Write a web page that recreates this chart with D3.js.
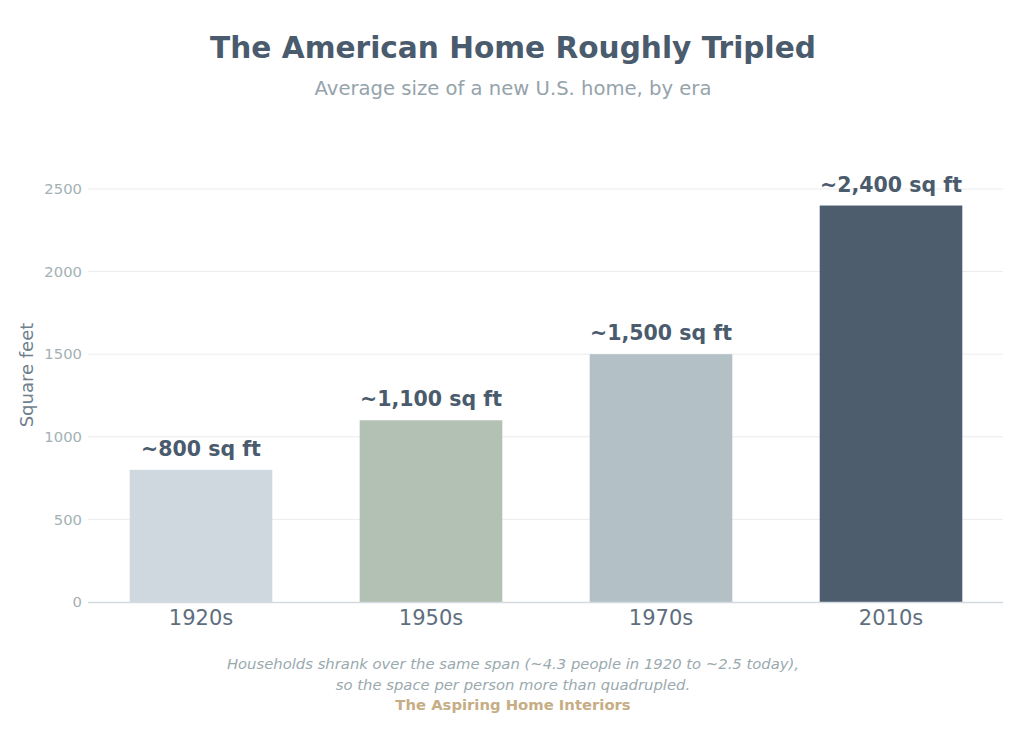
<!DOCTYPE html>
<html>
<head>
<meta charset="utf-8">
<script src="https://cdn.jsdelivr.net/npm/d3@7"></script>
<style>
  body { margin: 0; background: #fff; }
  svg { font-family: "DejaVu Sans", sans-serif; }
</style>
</head>
<body>
<script>
const WIDTH = 1024;
const HEIGHT = 747;

// data
var ERAS = ["1920s", "1950s", "1970s", "2010s"];
var SQFT = [800, 1100, 1500, 2400];
var VALUE_LABELS = ["~800 sq ft", "~1,100 sq ft", "~1,500 sq ft", "~2,400 sq ft"];
var BAR_COLORS = ["#d0d8df", "#b2c1b3", "#b3c1c6", "#4d5d6e"];
var Y_TICKS = [0, 500, 1000, 1500, 2000, 2500];

var margin = { left: 88, right: 21, top: 189, bottom: 145 };

var xScale = d3
  .scaleBand()
  .domain(ERAS)
  .range([86, 1006])
  .paddingInner(0.38)
  .paddingOuter(0.19);

var yScale = d3
  .scaleLinear()
  .domain([0, 2500])
  .range([HEIGHT - margin.bottom, margin.top]);

var svg = d3
  .select("body")
  .append("svg")
  .attr("width", WIDTH)
  .attr("height", HEIGHT);

//title
svg.append("text")
  .attr("x", 513).attr("y", 58)
  .attr("text-anchor", "middle")
  .attr("font-size", "29.6px")
  .attr("font-weight", "bold")
  .attr("fill", "#4a5b6d")
  .text("The American Home Roughly Tripled");

svg.append("text")
  .attr("x", 513).attr("y", 95)
  .attr("text-anchor", "middle")
  .attr("font-size", "19.6px")
  .attr("fill", "#95a3ab")
  .text("Average size of a new U.S. home, by era");

//gridlines
svg.append("g")
  .selectAll("line")
  .data(Y_TICKS.filter((d) => d > 0))
  .enter()
  .append("line")
  .attr("x1", margin.left)
  .attr("x2", WIDTH - margin.right)
  .attr("y1", (d) => yScale(d))
  .attr("y2", (d) => yScale(d))
  .attr("stroke", "#ececec")
  .attr("stroke-width", 1);

//y axis
var yAxis = svg.append("g")
  .attr("transform", "translate(" + margin.left + ",0)")
  .call(d3.axisLeft(yScale).tickValues(Y_TICKS).tickFormat(d3.format("d")).tickSize(0).tickPadding(6));
yAxis.select(".domain").remove();
yAxis.selectAll("text")
  .attr("font-size", "14.8px")
  .attr("font-family", "DejaVu Sans, sans-serif")
  .attr("fill", "#a3b1b4");

svg.append("text")
  .attr("transform", "translate(33," + 375 + ") rotate(-90)")
  .attr("text-anchor", "middle")
  .attr("font-size", "18px")
  .attr("fill", "#6f7f8d")
  .text("Square feet");

//bars
svg.append("g")
  .selectAll("rect")
  .data(SQFT)
  .enter()
  .append("rect")
  .attr("x", (d, i) => xScale(ERAS[i]))
  .attr("y", (d) => yScale(d))
  .attr("width", xScale.bandwidth())
  .attr("height", (d) => yScale(0) - yScale(d))
  .attr("fill", (d, i) => BAR_COLORS[i]);

//value labels
svg.append("g")
  .selectAll("text")
  .data(SQFT)
  .enter()
  .append("text")
  .attr("x", (d, i) => xScale(ERAS[i]) + xScale.bandwidth() / 2)
  .attr("y", (d) => yScale(d) - 14)
  .attr("text-anchor", "middle")
  .attr("font-size", "20.5px")
  .attr("font-weight", "bold")
  .attr("fill", "#4a5b6d")
  .text((d, i) => VALUE_LABELS[i]);

//x axis
var xAxis = svg.append("g")
  .attr("transform", "translate(0," + yScale(0) + ")")
  .call(d3.axisBottom(xScale).tickSize(0).tickPadding(8));
xAxis.select(".domain")
  .attr("d", "M" + margin.left + ",0.5H" + (WIDTH - margin.right))
  .attr("stroke", "#d3dae0")
  .attr("stroke-width", 1.5);
xAxis.selectAll("text")
  .attr("font-size", "21px")
  .attr("font-family", "DejaVu Sans, sans-serif")
  .attr("fill", "#5e6e7e");

//footnote
var notes = ["Households shrank over the same span (~4.3 people in 1920 to ~2.5 today),",
  "so the space per person more than quadrupled."];
svg.append("g")
  .selectAll("text")
  .data(notes)
  .enter()
  .append("text")
  .attr("x", 513)
  .attr("y", (d, i) => 669 + i * 21)
  .attr("text-anchor", "middle")
  .attr("font-size", "14.8px")
  .attr("font-style", "italic")
  .attr("fill", "#9aa9ae")
  .text((d) => d);

svg.append("text")
  .attr("x", 513).attr("y", 710)
  .attr("text-anchor", "middle")
  .attr("font-size", "14.8px")
  .attr("font-weight", "bold")
  .attr("fill", "#c6ad84")
  .text("The Aspiring Home Interiors");
</script>
</body>
</html>
